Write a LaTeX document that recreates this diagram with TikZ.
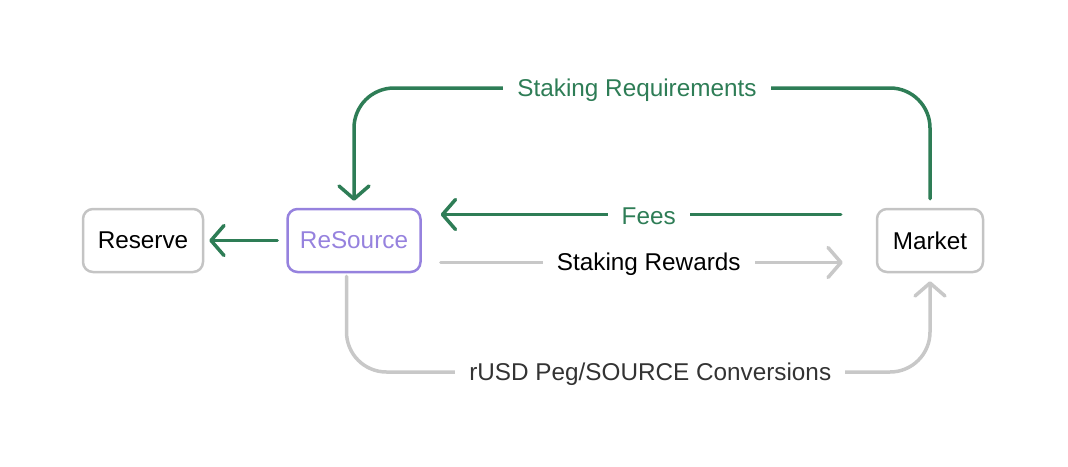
\documentclass[tikz,border=0pt]{standalone}
\usepackage{fontspec}
\setmainfont{Liberation Sans}
\usepackage{xcolor}
\usetikzlibrary{positioning}
\usetikzlibrary{arrows.meta}
\definecolor{flowgreen}{RGB}{46,125,86}
\definecolor{flowgray}{RGB}{200,200,200}
\definecolor{boxgray}{RGB}{196,196,196}
\definecolor{srcpurple}{RGB}{150,130,222}
\definecolor{textgray}{RGB}{51,51,51}

\begin{document}
\begin{tikzpicture}[x=1pt,y=-1pt,node distance=82pt,
  font=\fontsize{24.3}{28}\selectfont,
  box/.style={draw=boxgray,line width=2.5pt,rounded corners=10pt,
    minimum height=63pt,inner xsep=5pt},
  flow/.style={line width=3.5pt,line cap=round,
    -{Straight Barb[length=13pt,width=30pt,round]}},
  lbl/.style={fill=white,sharp corners,inner xsep=14pt,inner ysep=2pt,yshift=-2pt}]
\useasboundingbox (0,0) rectangle (1068,466);

\node[box,minimum width=120pt]      (reserve)  at (143,240.5) {Reserve};
\node[box,minimum width=133pt,draw=srcpurple,text=srcpurple] (resource) [right=82pt of reserve] {ReSource};
\node[box,minimum width=106pt]      (market)   [right=454pt of resource] {Market};
\coordinate (top) at (0,88);
\coordinate (bottom) at (0,372);

\draw[flow,flowgreen,shorten <=9pt,shorten >=5pt] (resource) -- (reserve);

\draw[flow,flowgreen,rounded corners=40pt,shorten <=9pt,shorten >=7pt]
      (market.north) -- (market.north |- top)
      -- node[lbl,text=flowgreen,xshift=-5pt] {Staking Requirements} (resource.north |- top)
      -- (resource.north);

\draw[flow,flowgreen,shorten <=35pt,shorten >=19pt]
      ([yshift=26pt]market.west) -- node[lbl,text=flowgreen] {Fees} ([yshift=26pt]resource.east);

\draw[flow,flowgray,shorten <=19pt,shorten >=33pt]
      ([yshift=-22pt]resource.east) -- node[lbl,text=black] {Staking Rewards} ([yshift=-22pt]market.west);

\draw[flow,flowgray,rounded corners=40pt,shorten <=3pt,shorten >=8pt]
      ([xshift=-7.5pt]resource.south) -- ([xshift=-7.5pt]resource.south |- bottom)
      -- node[lbl,text=textgray,xshift=12pt] {rUSD Peg/SOURCE Conversions} (market.south |- bottom)
      -- (market.south);
\end{tikzpicture}
\end{document}
